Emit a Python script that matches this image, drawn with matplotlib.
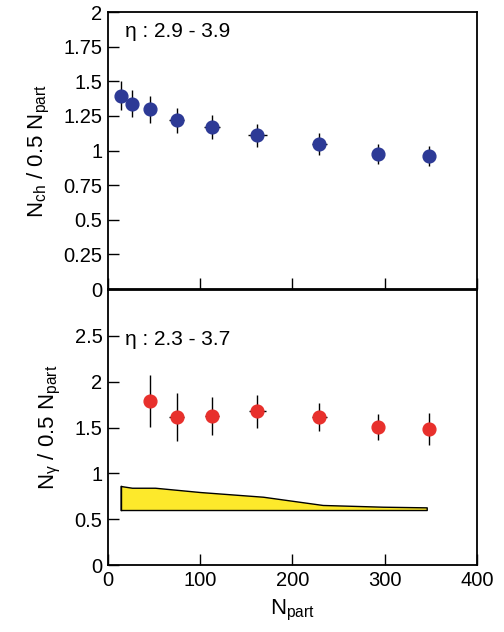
import matplotlib
matplotlib.use("Agg")
import matplotlib.pyplot as plt
import numpy as np

plt.rcParams['font.family'] = ['Liberation Sans', 'DejaVu Sans']
plt.rcParams['mathtext.fontset'] = 'custom'
plt.rcParams['mathtext.rm'] = 'Liberation Sans'
plt.rcParams['mathtext.it'] = 'Liberation Sans'

# Top panel data: charged particles
npart_ch = [13.7, 26, 46, 74.4, 112.7, 161.9, 229, 293, 347.6]
nch = [1.396, 1.338, 1.297, 1.22, 1.167, 1.11, 1.047, 0.975, 0.96]
nch_yerr = [0.106, 0.099, 0.096, 0.09, 0.087, 0.082, 0.077, 0.075, 0.072]
nch_xerr = [1, 2, 3, 8, 9, 10, 8, 5, 4]

# Bottom panel data: photons
npart_g = [46, 74.4, 112.7, 161.9, 229, 293, 347.6]
ng = [1.789, 1.618, 1.625, 1.676, 1.618, 1.505, 1.487]
ng_yerr = [0.28, 0.26, 0.204, 0.18, 0.153, 0.142, 0.175]
ng_xerr = [3, 8, 8, 9, 8, 5, 4]

# Systematic band
band_x = [13.7, 26, 51, 100, 168, 232.7, 298, 345.5]
band_hi = [0.862, 0.843, 0.843, 0.796, 0.745, 0.655, 0.636, 0.629]
band_lo = [0.6, 0.6, 0.6, 0.6, 0.6, 0.6, 0.6, 0.6]

fig = plt.figure(figsize=(5.04, 6.32), dpi=100)
ax1 = fig.add_axes([0.2143, 0.5427, 0.7321, 0.4383])
ax2 = fig.add_axes([0.2143, 0.106, 0.7321, 0.4351])

blue = '#2d3a96'
red = '#e8302c'

ax1.errorbar(npart_ch, nch, yerr=nch_yerr, xerr=nch_xerr, fmt='o', color=blue,
             ms=9.2, ecolor='black', elinewidth=1.0, capsize=0, zorder=3)
ax1.set_xlim(0, 400)
ax1.set_ylim(0, 2)
ax1.set_yticks([0, 0.25, 0.5, 0.75, 1, 1.25, 1.5, 1.75, 2])
ax1.set_yticklabels(['0', '0.25', '0.5', '0.75', '1', '1.25', '1.5', '1.75', '2'])
ax1.set_xticks([0, 100, 200, 300, 400])
ax1.tick_params(axis='x', labelbottom=False)
ax1.set_ylabel(r'N$_{\rm ch}$ / 0.5 N$_{\rm part}$', fontsize=16, labelpad=8)
ax1.text(0.045, 0.93, 'η : 2.9 - 3.9', transform=ax1.transAxes, fontsize=15,
         ha='left', va='center')

ax2.fill_between(band_x, band_lo, band_hi, facecolor='#fde92b', edgecolor='black',
                 linewidth=1.0, zorder=2)
ax2.plot([band_x[0], band_x[0]], [band_lo[0], band_hi[0]], color='black', lw=1.0, zorder=2)
ax2.errorbar(npart_g, ng, yerr=ng_yerr, xerr=ng_xerr, fmt='o', color=red,
             ms=9.2, ecolor='black', elinewidth=1.0, capsize=0, zorder=3)
ax2.set_xlim(0, 400)
ax2.set_ylim(0, 3)
ax2.set_yticks([0, 0.5, 1, 1.5, 2, 2.5])
ax2.set_yticklabels(['0', '0.5', '1', '1.5', '2', '2.5'])
ax2.set_xticks([0, 100, 200, 300, 400])
ax2.set_ylabel(r'N$_{\gamma}$ / 0.5 N$_{\rm part}$', fontsize=16, labelpad=8)
ax2.set_xlabel(r'N$_{\rm part}$', fontsize=16, labelpad=6)
ax2.text(0.045, 0.82, 'η : 2.3 - 3.7', transform=ax2.transAxes, fontsize=15,
         ha='left', va='center')

for ax in (ax1, ax2):
    ax.tick_params(direction='in', length=8, width=1.0, labelsize=14.5,
                   top=False, right=False, pad=4)
    for s in ax.spines.values():
        s.set_linewidth(1.3)

fig.savefig('out.png', dpi=100)
